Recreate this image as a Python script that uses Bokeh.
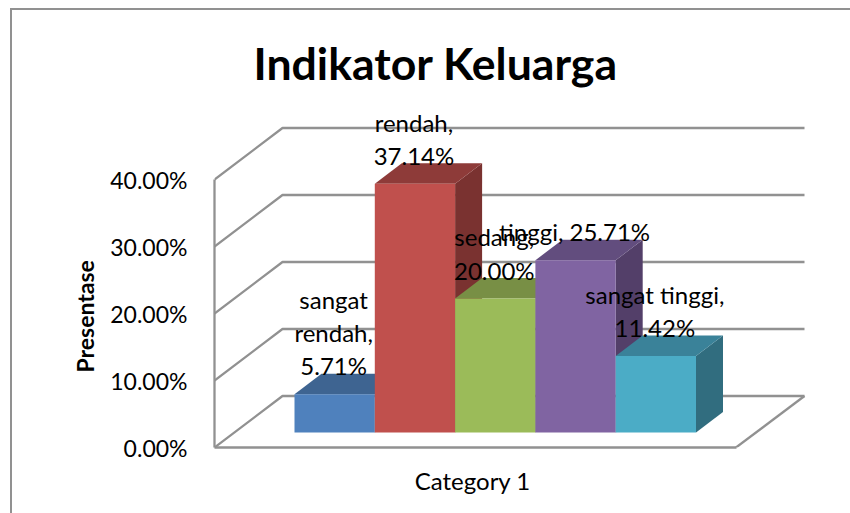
from bokeh.plotting import figure
from bokeh.models import Range1d, FixedTicker, Title, ColumnDataSource
from bokeh.core.properties import value
from bokeh.embed import file_html
from bokeh.resources import INLINE

# ---- data ----
names = ["sangat rendah", "rendah", "sedang", "tinggi", "sangat tinggi"]
values = [5.71, 37.14, 20.00, 25.71, 11.42]
point_labels = ["sangat\nrendah,\n5.71%", "rendah,\n37.14%", "sedang,\n20.00%",
                "tinggi, 25.71%", "sangat tinggi,\n11.42%"]
y_ticks = [0, 10, 20, 30, 40]
category = "Category 1"
title_text = "Indikator Keluarga"
axis_title = "Presentase"
front_colors = ["#4F81BD", "#C0504D", "#9BBB59", "#8064A2", "#4BACC6"]
top_colors = ["#3E6491", "#8E3B39", "#788F45", "#624D7E", "#3A8299"]
side_colors = ["#355578", "#7A3230", "#64773A", "#533F69", "#316D7F"]

# ---- projection constants (data units: one bar = 1 x unit, y in percent) ----
PX = 80.3
PY = 6.7
X0 = -80 / PX              # front-left corner of the floor
BASE = 15 / PY             # bar baseline above front floor edge
DX, DY = 27 / PX, 20.5 / PY  # bar depth
BX = 68 / PX               # wall depth
BY = 51.5 / PY
FR = 441.5 / PX            # front-right floor corner
BR = 510 / PX              # back-right floor corner
FONT = "Lato"
GREY = "#919191"

p = figure(width=850, height=513, output_backend="svg", toolbar_location=None,
           x_range=Range1d(X0, 556 / PX), y_range=Range1d(0, 347 / PY),
           min_border_left=214, min_border_right=0, min_border_top=100,
           min_border_bottom=66, outline_line_color=None,
           background_fill_alpha=0, border_fill_alpha=0,
           styles={"box-shadow": f"inset 10px 8px 0 white, inset 12px 10px 0 {GREY}"})
p.grid.visible = False

# title
p.title = Title(text=title_text, align="left", offset=39, text_font=FONT,
                text_font_size="44.6px", text_font_style="bold", text_color="black", standoff=23)

# axes
ya = p.yaxis[0]
ya.ticker = FixedTicker(ticks=y_ticks)
ya.bounds = (y_ticks[0], y_ticks[-1])
ya.major_label_overrides = {t: f"{t:.2f}%" for t in y_ticks}
ya.major_tick_line_color = None
ya.minor_tick_line_color = None
ya.major_label_standoff = 21
ya.major_label_text_font = FONT
ya.major_label_text_font_size = "23px"
ya.major_label_text_color = "black"
ya.axis_line_color = GREY
ya.axis_line_width = 2.3

xa = p.xaxis[0]
xa.ticker = FixedTicker(ticks=[2.22])
xa.major_label_overrides = {2.22: category}
xa.bounds = (X0, FR)
xa.major_tick_line_color = None
xa.minor_tick_line_color = None
xa.major_label_standoff = 12
xa.major_label_text_font = FONT
xa.major_label_text_font_size = "24px"
xa.major_label_text_color = "black"
xa.axis_line_color = GREY
xa.axis_line_width = 2.3

# axis title, placed along the 0-40 span of the axis
p.add_layout(Title(text=axis_title, align="left", offset=75, text_font=FONT,
                   text_font_size="23px", text_font_style="bold", text_color="black",
                   standoff=18), "left")

# walls and gridlines
for t in y_ticks:
    xs = [X0, X0 + BX, BR]
    ys = [t, t + BY, t + BY]
    p.line(xs, ys, line_color=GREY, line_width=2.3)
p.line([FR, BR], [0, BY], line_color=GREY, line_width=2.3)

# bars
for i, v in enumerate(values):
    top = BASE + v
    p.patch([i + 1, i + 1 + DX, i + 1 + DX, i + 1],
            [BASE, BASE + DY, top + DY, top], fill_color=side_colors[i], line_color=None)
    p.patch([i, i + DX, i + 1 + DX, i + 1],
            [top, top + DY, top + DY, top], fill_color=top_colors[i], line_color=None)
    p.quad(left=i, right=i + 1, bottom=BASE, top=top, fill_color=front_colors[i], line_color=None)

# data labels
src = ColumnDataSource(dict(
    x=[i + 0.5 - 1 / PX for i in range(len(values))],
    y=[BASE + v + DY - 1.0 for v in values],
    t=point_labels))
p.text("x", "y", text="t", source=src, text_font=value(FONT), text_font_size="24px",
       text_align="center", text_baseline="bottom", text_color="black", text_line_height=1.15)

open("out.html", "w").write(file_html(p, INLINE))
